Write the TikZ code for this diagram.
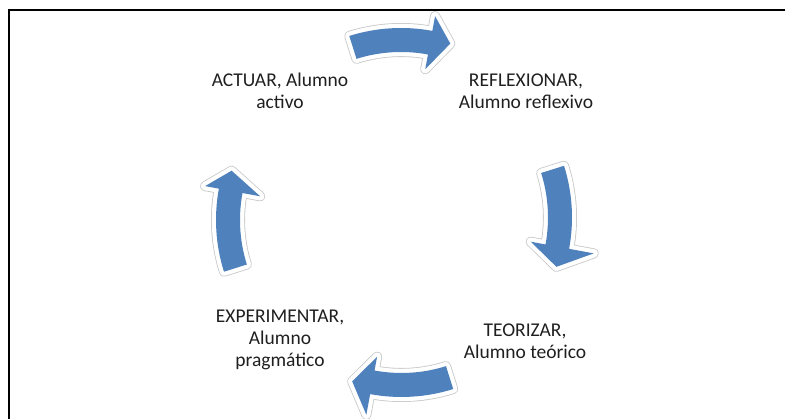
\documentclass[tikz,border=0pt]{standalone}
\usepackage{fontspec}
\setmainfont{Carlito}
\definecolor{arrowblue}{RGB}{79,129,189}
\tikzset{
  cycfill/.style={fill=arrowblue},
  glowout/.style={draw=black!22, line width=10pt, line join=round},
  glowin/.style={draw=white, line width=8.4pt, line join=round},
  lbl/.style={align=center, font=\fontsize{19.5}{22}\selectfont, text=black!88, inner sep=0pt},
  frameline/.style={line width=2.5pt, draw=black}
}
\begin{document}
\begin{tikzpicture}[x=1pt,y=1pt]
\useasboundingbox (0,0) rectangle (785,419);
\draw[frameline] (9,0) -- (9,409) -- (786,409);
% arc centre (y up), middle angle, head outer and inner radius of each arrow
\foreach \cx/\cy/\c/\ho/\hi in {401/219/90/187/133, 400/201.5/0/197/133, 401.5/194/-90/193/134, 388/199/180/186/130}{
  \begin{scope}[shift={(\cx,\cy)}]
  \foreach \st in {glowout,glowin}{
    \draw[\st] (\c+17.5:172pt) arc[start angle=\c+17.5, end angle=\c-10.5, radius=172pt]
      -- (\c-10.5:\ho pt) -- (\c-17.5:164pt) -- (\c-10.5:\hi pt) -- (\c-10.5:148pt)
      arc[start angle=\c-10.5, end angle=\c+17.5, radius=148pt] -- cycle;
  }
  \fill[cycfill] (\c+17.5:172pt) arc[start angle=\c+17.5, end angle=\c-10.5, radius=172pt]
      -- (\c-10.5:\ho pt) -- (\c-17.5:164pt) -- (\c-10.5:\hi pt) -- (\c-10.5:148pt)
      arc[start angle=\c-10.5, end angle=\c+17.5, radius=148pt] -- cycle;
  \end{scope}
}
\node[lbl] (actuar) at (280,328) {ACTUAR, Alumno\\activo};
\node[lbl] (reflex) at (526,328) {REFLEXIONAR,\\Alumno reflexivo};
\node[lbl] (teor) at (525,78) {TEORIZAR,\\Alumno teórico};
\node[lbl] (exper) at (280,79) {EXPERIMENTAR,\\Alumno\\pragmático};
\end{tikzpicture}
\end{document}
